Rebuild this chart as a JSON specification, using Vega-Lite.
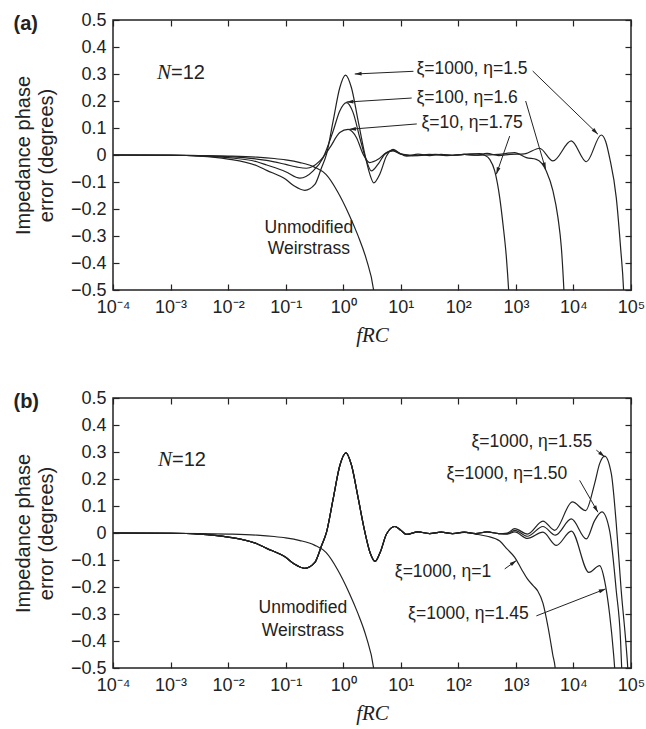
{
  "$schema": "https://vega.github.io/schema/vega-lite/v6.json",
  "padding": {"left": 12, "top": 10, "right": 4, "bottom": 2},
  "spacing": 42,
  "config": {
    "view": {"stroke": "#222", "strokeWidth": 1.5},
    "font": "Liberation Sans",
    "axis": {"labelFont": "Liberation Sans", "labelFontSize": 18, "labelColor": "#222", "tickColor": "#222", "tickWidth": 1.2, "domain": false, "grid": false, "tickSize": -6, "labelFlush": false, "labelOverlap": false, "labelBound": false, "titleColor": "#222", "titleFontWeight": "normal"},
    "text": {"font": "Liberation Sans", "fontSize": 17.5, "color": "#222"}
  },
  "datasets": {
    "curvesA": [
      {"s":"a1","f":0.0001,"err":0},{"s":"a1","f":0.001,"err":-0.001},{"s":"a1","f":0.003162,"err":-0.004},{"s":"a1","f":0.01,"err":-0.015},{"s":"a1","f":0.03162,"err":-0.04},{"s":"a1","f":0.04677,"err":-0.057},{"s":"a1","f":0.1,"err":-0.09},{"s":"a1","f":0.1413,"err":-0.115},{"s":"a1","f":0.2153,"err":-0.131},{"s":"a1","f":0.3214,"err":-0.109},{"s":"a1","f":0.4198,"err":-0.047},{"s":"a1","f":0.5129,"err":0.003},{"s":"a1","f":0.6683,"err":0.126},{"s":"a1","f":0.871,"err":0.249},{"s":"a1","f":1.096,"err":0.296},{"s":"a1","f":1.39,"err":0.249},{"s":"a1","f":1.816,"err":0.126},{"s":"a1","f":2.371,"err":0.003},{"s":"a1","f":2.897,"err":-0.071},{"s":"a1","f":3.396,"err":-0.103},{"s":"a1","f":4.315,"err":-0.071},{"s":"a1","f":5.649,"err":-0.004},{"s":"a1","f":7.345,"err":0.021},{"s":"a1","f":9.333,"err":0.008},{"s":"a1","f":12.59,"err":-0.004},{"s":"a1","f":19.95,"err":0.003},{"s":"a1","f":31.62,"err":-0.002},{"s":"a1","f":50.12,"err":0.002},{"s":"a1","f":79.43,"err":-0.001},{"s":"a1","f":125.9,"err":0.002},{"s":"a1","f":199.5,"err":-0.001},{"s":"a1","f":316.2,"err":0.006},{"s":"a1","f":501.2,"err":-0.002},{"s":"a1","f":794.3,"err":0.002},{"s":"a1","f":1413,"err":0.004},{"s":"a1","f":2588,"err":0.025},{"s":"a1","f":4406,"err":-0.022},{"s":"a1","f":9162,"err":0.052},{"s":"a1","f":16750,"err":-0.025},{"s":"a1","f":30480,"err":0.074},{"s":"a1","f":36310,"err":0.05},{"s":"a1","f":42460,"err":-0.01},{"s":"a1","f":55460,"err":-0.158},{"s":"a1","f":65920,"err":-0.343},{"s":"a1","f":74470,"err":-0.504},{"s":"a1","f":76000,"err":-0.55},
      {"s":"a2","f":0.0001,"err":0},{"s":"a2","f":0.001,"err":-0.001},{"s":"a2","f":0.003162,"err":-0.003},{"s":"a2","f":0.01,"err":-0.01},{"s":"a2","f":0.03162,"err":-0.025},{"s":"a2","f":0.04677,"err":-0.037},{"s":"a2","f":0.1,"err":-0.062},{"s":"a2","f":0.1766,"err":-0.086},{"s":"a2","f":0.3006,"err":-0.059},{"s":"a2","f":0.4477,"err":-0.01},{"s":"a2","f":0.6683,"err":0.089},{"s":"a2","f":0.871,"err":0.163},{"s":"a2","f":1.14,"err":0.194},{"s":"a2","f":1.486,"err":0.157},{"s":"a2","f":1.941,"err":0.064},{"s":"a2","f":2.541,"err":-0.022},{"s":"a2","f":3.09,"err":-0.059},{"s":"a2","f":4.036,"err":-0.034},{"s":"a2","f":5.272,"err":0.003},{"s":"a2","f":7.345,"err":0.017},{"s":"a2","f":10,"err":0.004},{"s":"a2","f":15.85,"err":-0.003},{"s":"a2","f":31.62,"err":0.002},{"s":"a2","f":63.1,"err":-0.002},{"s":"a2","f":125.9,"err":0.002},{"s":"a2","f":251.2,"err":-0.001},{"s":"a2","f":501.2,"err":0.002},{"s":"a2","f":952.8,"err":0.009},{"s":"a2","f":1517,"err":-0.01},{"s":"a2","f":2259,"err":-0.016},{"s":"a2","f":3373,"err":-0.059},{"s":"a2","f":4406,"err":-0.133},{"s":"a2","f":5383,"err":-0.232},{"s":"a2","f":6166,"err":-0.343},{"s":"a2","f":6839,"err":-0.504},{"s":"a2","f":7000,"err":-0.55},
      {"s":"a3","f":0.0001,"err":0},{"s":"a3","f":0.001,"err":-0.0005},{"s":"a3","f":0.003162,"err":-0.002},{"s":"a3","f":0.01,"err":-0.006},{"s":"a3","f":0.03162,"err":-0.015},{"s":"a3","f":0.04677,"err":-0.02},{"s":"a3","f":0.1,"err":-0.035},{"s":"a3","f":0.1585,"err":-0.045},{"s":"a3","f":0.2291,"err":-0.049},{"s":"a3","f":0.3926,"err":-0.022},{"s":"a3","f":0.5848,"err":0.027},{"s":"a3","f":0.871,"err":0.083},{"s":"a3","f":1.216,"err":0.095},{"s":"a3","f":1.702,"err":0.064},{"s":"a3","f":2.218,"err":0.003},{"s":"a3","f":2.884,"err":-0.028},{"s":"a3","f":4.036,"err":-0.016},{"s":"a3","f":5.649,"err":0.009},{"s":"a3","f":7.345,"err":0.015},{"s":"a3","f":10,"err":0.003},{"s":"a3","f":19.95,"err":-0.002},{"s":"a3","f":39.81,"err":0.002},{"s":"a3","f":79.43,"err":-0.001},{"s":"a3","f":158.5,"err":0.004},{"s":"a3","f":235.5,"err":0.005},{"s":"a3","f":281.8,"err":0},{"s":"a3","f":350.8,"err":-0.016},{"s":"a3","f":428.5,"err":-0.059},{"s":"a3","f":523.6,"err":-0.158},{"s":"a3","f":597,"err":-0.257},{"s":"a3","f":683.9,"err":-0.38},{"s":"a3","f":749.9,"err":-0.504},{"s":"a3","f":770,"err":-0.55},
      {"s":"u","f":0.0001,"err":0},{"s":"u","f":0.001,"err":-0.001},{"s":"u","f":0.003162,"err":-0.002},{"s":"u","f":0.01,"err":-0.004},{"s":"u","f":0.03162,"err":-0.008},{"s":"u","f":0.0631,"err":-0.013},{"s":"u","f":0.1,"err":-0.018},{"s":"u","f":0.1778,"err":-0.028},{"s":"u","f":0.3162,"err":-0.045},{"s":"u","f":0.5012,"err":-0.072},{"s":"u","f":0.7943,"err":-0.135},{"s":"u","f":1.259,"err":-0.22},{"s":"u","f":1.778,"err":-0.295},{"s":"u","f":2.512,"err":-0.385},{"s":"u","f":3.396,"err":-0.505},{"s":"u","f":3.6,"err":-0.55}
    ],
    "curvesB": [
      {"s":"u","f":0.0001,"err":0},{"s":"u","f":0.001,"err":-0.001},{"s":"u","f":0.003162,"err":-0.002},{"s":"u","f":0.01,"err":-0.004},{"s":"u","f":0.03162,"err":-0.008},{"s":"u","f":0.0631,"err":-0.013},{"s":"u","f":0.1,"err":-0.018},{"s":"u","f":0.1778,"err":-0.028},{"s":"u","f":0.3162,"err":-0.045},{"s":"u","f":0.5012,"err":-0.072},{"s":"u","f":0.7943,"err":-0.135},{"s":"u","f":1.259,"err":-0.22},{"s":"u","f":1.778,"err":-0.295},{"s":"u","f":2.512,"err":-0.385},{"s":"u","f":3.396,"err":-0.505},{"s":"u","f":3.6,"err":-0.55},
      {"s":"e1","f":0.0001,"err":0},{"s":"e1","f":0.001,"err":-0.001},{"s":"e1","f":0.003162,"err":-0.004},{"s":"e1","f":0.01,"err":-0.015},{"s":"e1","f":0.03162,"err":-0.04},{"s":"e1","f":0.04677,"err":-0.057},{"s":"e1","f":0.1,"err":-0.09},{"s":"e1","f":0.1413,"err":-0.115},{"s":"e1","f":0.2153,"err":-0.131},{"s":"e1","f":0.3214,"err":-0.109},{"s":"e1","f":0.4198,"err":-0.047},{"s":"e1","f":0.5129,"err":0.003},{"s":"e1","f":0.6683,"err":0.126},{"s":"e1","f":0.871,"err":0.249},{"s":"e1","f":1.118,"err":0.297},{"s":"e1","f":1.39,"err":0.252},{"s":"e1","f":1.816,"err":0.13},{"s":"e1","f":2.371,"err":0.005},{"s":"e1","f":2.951,"err":-0.075},{"s":"e1","f":3.589,"err":-0.105},{"s":"e1","f":4.416,"err":-0.07},{"s":"e1","f":5.649,"err":-0.004},{"s":"e1","f":7.87,"err":0.024},{"s":"e1","f":10,"err":0.01},{"s":"e1","f":12.59,"err":-0.005},{"s":"e1","f":19.95,"err":0.004},{"s":"e1","f":31.62,"err":-0.002},{"s":"e1","f":50.12,"err":0.003},{"s":"e1","f":79.43,"err":-0.002},{"s":"e1","f":125.9,"err":0.002},{"s":"e1","f":199.5,"err":-0.004},{"s":"e1","f":316.2,"err":-0.012},{"s":"e1","f":524.8,"err":-0.03},{"s":"e1","f":707.9,"err":-0.06},{"s":"e1","f":955,"err":-0.09},{"s":"e1","f":1259,"err":-0.135},{"s":"e1","f":1585,"err":-0.17},{"s":"e1","f":1995,"err":-0.195},{"s":"e1","f":2399,"err":-0.215},{"s":"e1","f":2951,"err":-0.26},{"s":"e1","f":3631,"err":-0.35},{"s":"e1","f":4365,"err":-0.45},{"s":"e1","f":4898,"err":-0.515},{"s":"e1","f":5000,"err":-0.55},
      {"s":"b1","f":0.0001,"err":0},{"s":"b1","f":0.001,"err":-0.001},{"s":"b1","f":0.003162,"err":-0.004},{"s":"b1","f":0.01,"err":-0.015},{"s":"b1","f":0.03162,"err":-0.04},{"s":"b1","f":0.04677,"err":-0.057},{"s":"b1","f":0.1,"err":-0.09},{"s":"b1","f":0.1413,"err":-0.115},{"s":"b1","f":0.2153,"err":-0.131},{"s":"b1","f":0.3214,"err":-0.109},{"s":"b1","f":0.4198,"err":-0.047},{"s":"b1","f":0.5129,"err":0.003},{"s":"b1","f":0.6683,"err":0.126},{"s":"b1","f":0.871,"err":0.249},{"s":"b1","f":1.118,"err":0.297},{"s":"b1","f":1.39,"err":0.252},{"s":"b1","f":1.816,"err":0.13},{"s":"b1","f":2.371,"err":0.005},{"s":"b1","f":2.951,"err":-0.075},{"s":"b1","f":3.589,"err":-0.105},{"s":"b1","f":4.416,"err":-0.07},{"s":"b1","f":5.649,"err":-0.004},{"s":"b1","f":7.87,"err":0.024},{"s":"b1","f":10,"err":0.01},{"s":"b1","f":12.59,"err":-0.005},{"s":"b1","f":19.95,"err":0.004},{"s":"b1","f":31.62,"err":-0.002},{"s":"b1","f":50.12,"err":0.003},{"s":"b1","f":79.43,"err":-0.002},{"s":"b1","f":125.9,"err":0.003},{"s":"b1","f":199.5,"err":-0.002},{"s":"b1","f":316.2,"err":0.004},{"s":"b1","f":501.2,"err":-0.002},{"s":"b1","f":707.9,"err":0},{"s":"b1","f":955,"err":0.016},{"s":"b1","f":1585,"err":-0.004},{"s":"b1","f":2951,"err":0.044},{"s":"b1","f":4721,"err":0.01},{"s":"b1","f":9572,"err":0.115},{"s":"b1","f":16290,"err":0.083},{"s":"b1","f":23330,"err":0.183},{"s":"b1","f":28510,"err":0.257},{"s":"b1","f":34830,"err":0.285},{"s":"b1","f":45500,"err":0.22},{"s":"b1","f":55460,"err":0.034},{"s":"b1","f":67610,"err":-0.214},{"s":"b1","f":82790,"err":-0.425},{"s":"b1","f":88310,"err":-0.51},{"s":"b1","f":90000,"err":-0.55},
      {"s":"b2","f":0.0001,"err":0},{"s":"b2","f":0.001,"err":-0.001},{"s":"b2","f":0.003162,"err":-0.004},{"s":"b2","f":0.01,"err":-0.015},{"s":"b2","f":0.03162,"err":-0.04},{"s":"b2","f":0.04677,"err":-0.057},{"s":"b2","f":0.1,"err":-0.09},{"s":"b2","f":0.1413,"err":-0.115},{"s":"b2","f":0.2153,"err":-0.131},{"s":"b2","f":0.3214,"err":-0.109},{"s":"b2","f":0.4198,"err":-0.047},{"s":"b2","f":0.5129,"err":0.003},{"s":"b2","f":0.6683,"err":0.126},{"s":"b2","f":0.871,"err":0.249},{"s":"b2","f":1.118,"err":0.297},{"s":"b2","f":1.39,"err":0.252},{"s":"b2","f":1.816,"err":0.13},{"s":"b2","f":2.371,"err":0.005},{"s":"b2","f":2.951,"err":-0.075},{"s":"b2","f":3.589,"err":-0.105},{"s":"b2","f":4.416,"err":-0.07},{"s":"b2","f":5.649,"err":-0.004},{"s":"b2","f":7.87,"err":0.024},{"s":"b2","f":10,"err":0.01},{"s":"b2","f":12.59,"err":-0.005},{"s":"b2","f":19.95,"err":0.004},{"s":"b2","f":31.62,"err":-0.002},{"s":"b2","f":50.12,"err":0.003},{"s":"b2","f":79.43,"err":-0.002},{"s":"b2","f":125.9,"err":0.003},{"s":"b2","f":199.5,"err":-0.002},{"s":"b2","f":316.2,"err":0.004},{"s":"b2","f":501.2,"err":-0.002},{"s":"b2","f":707.9,"err":-0.002},{"s":"b2","f":955,"err":0.01},{"s":"b2","f":1585,"err":-0.012},{"s":"b2","f":2951,"err":0.024},{"s":"b2","f":4853,"err":-0.008},{"s":"b2","f":9204,"err":0.052},{"s":"b2","f":16750,"err":-0.022},{"s":"b2","f":23330,"err":0.046},{"s":"b2","f":31260,"err":0.078},{"s":"b2","f":42460,"err":0.009},{"s":"b2","f":55460,"err":-0.214},{"s":"b2","f":65920,"err":-0.4},{"s":"b2","f":69180,"err":-0.51},{"s":"b2","f":71000,"err":-0.55},
      {"s":"b3","f":0.0001,"err":0},{"s":"b3","f":0.001,"err":-0.001},{"s":"b3","f":0.003162,"err":-0.004},{"s":"b3","f":0.01,"err":-0.015},{"s":"b3","f":0.03162,"err":-0.04},{"s":"b3","f":0.04677,"err":-0.057},{"s":"b3","f":0.1,"err":-0.09},{"s":"b3","f":0.1413,"err":-0.115},{"s":"b3","f":0.2153,"err":-0.131},{"s":"b3","f":0.3214,"err":-0.109},{"s":"b3","f":0.4198,"err":-0.047},{"s":"b3","f":0.5129,"err":0.003},{"s":"b3","f":0.6683,"err":0.126},{"s":"b3","f":0.871,"err":0.249},{"s":"b3","f":1.118,"err":0.297},{"s":"b3","f":1.39,"err":0.252},{"s":"b3","f":1.816,"err":0.13},{"s":"b3","f":2.371,"err":0.005},{"s":"b3","f":2.951,"err":-0.075},{"s":"b3","f":3.589,"err":-0.105},{"s":"b3","f":4.416,"err":-0.07},{"s":"b3","f":5.649,"err":-0.004},{"s":"b3","f":7.87,"err":0.024},{"s":"b3","f":10,"err":0.01},{"s":"b3","f":12.59,"err":-0.005},{"s":"b3","f":19.95,"err":0.004},{"s":"b3","f":31.62,"err":-0.002},{"s":"b3","f":50.12,"err":0.003},{"s":"b3","f":79.43,"err":-0.002},{"s":"b3","f":125.9,"err":0.003},{"s":"b3","f":199.5,"err":-0.002},{"s":"b3","f":316.2,"err":0.004},{"s":"b3","f":501.2,"err":-0.002},{"s":"b3","f":707.9,"err":-0.004},{"s":"b3","f":955,"err":0.004},{"s":"b3","f":1585,"err":-0.02},{"s":"b3","f":2951,"err":0.003},{"s":"b3","f":5047,"err":-0.046},{"s":"b3","f":9204,"err":0.007},{"s":"b3","f":18580,"err":-0.146},{"s":"b3","f":28510,"err":-0.121},{"s":"b3","f":34830,"err":-0.177},{"s":"b3","f":42460,"err":-0.3},{"s":"b3","f":49890,"err":-0.45},{"s":"b3","f":52480,"err":-0.51},{"s":"b3","f":54000,"err":-0.55}
    ],
    "labelsA": [
      {"t":"ξ=1000, η=1.5","f":18.75,"err":0.319},
      {"t":"ξ=100, η=1.6","f":18.75,"err":0.212},
      {"t":"ξ=10, η=1.75","f":22.86,"err":0.12}
    ],
    "unmodA": [
      {"t":"Unmodified","f":0.2529,"err":-0.269},
      {"t":"Weirstrass","f":0.2529,"err":-0.349}
    ],
    "arrowsA": [
      {"f0":16.6,"err0":0.31,"f":1.585,"err":0.3},
      {"f0":1959,"err0":0.311,"f":26610,"err":0.077},
      {"f0":15.49,"err0":0.211,"f":1.14,"err":0.196},
      {"f0":1479,"err0":0.2,"f":3289,"err":-0.053},
      {"f0":18.97,"err0":0.115,"f":1.265,"err":0.095},
      {"f0":779.8,"err0":0.07,"f":458.1,"err":-0.071}
    ],
    "nA": [{"f":0.000581,"err":0.302}],
    "labelsB": [
      {"t":"ξ=1000, η=1.55","f":168.7,"err":0.338},
      {"t":"ξ=1000, η=1.50","f":62.09,"err":0.22},
      {"t":"ξ=1000, η=1","f":7.87,"err":-0.146},
      {"t":"ξ=1000, η=1.45","f":13.4,"err":-0.3}
    ],
    "unmodB": [
      {"t":"Unmodified","f":0.1991,"err":-0.276},
      {"t":"Weirstrass","f":0.1991,"err":-0.362}
    ],
    "arrowsB": [
      {"f0":25000,"err0":0.307,"f":34830,"err":0.282},
      {"f0":12820,"err0":0.195,"f":26610,"err":0.077},
      {"f0":639.7,"err0":-0.133,"f":1021,"err":-0.102},
      {"f0":2270,"err0":-0.307,"f":36220,"err":-0.207}
    ],
    "nB": [{"f":0.000604,"err":0.27}]
  },
  "vconcat": [
    {
      "title": {"text": "(a)", "anchor": "start", "frame": "bounds", "font": "Liberation Sans", "fontSize": 20, "fontWeight": "bold", "color": "#222", "dy": 27},
      "width": 518, "height": 270,
      "resolve": {"axis": {"x": "independent", "y": "independent"}},
      "encoding": {
        "x": {"field": "f", "type": "quantitative", "scale": {"type": "log", "domain": [0.0001, 100000], "nice": false}, "axis": null},
        "y": {"field": "err", "type": "quantitative", "scale": {"domain": [-0.5, 0.5], "nice": false, "zero": false}, "axis": null}
      },
      "layer": [
        {
          "data": {"name": "curvesA"},
          "mark": {"type": "line", "interpolate": "monotone", "clip": true, "color": "#222", "strokeWidth": 1.2},
          "encoding": {
            "x": {"field": "f", "type": "quantitative", "scale": {"type": "log", "domain": [0.0001, 100000], "nice": false},
              "axis": {"orient": "bottom", "values": [0.0001, 0.001, 0.01, 0.1, 1, 10, 100, 1000, 10000, 100000], "labelExpr": "'10' + ['⁻⁴','⁻³','⁻²','⁻¹','⁰','¹','²','³','⁴','⁵'][round(log(datum.value)/LN10)+4]", "labelPadding": 14, "title": "fRC", "titleFont": "Liberation Serif", "titleFontStyle": "italic", "titleFontSize": 21, "titlePadding": 8}},
            "y": {"field": "err", "type": "quantitative", "scale": {"domain": [-0.5, 0.5], "nice": false, "zero": false},
              "axis": {"orient": "left", "values": [-0.5, -0.4, -0.3, -0.2, -0.1, 0, 0.1, 0.2, 0.3, 0.4, 0.5], "format": ".1~f", "labelPadding": 13, "title": ["Impedance phase", "error (degrees)"], "titleFontSize": 20, "titleLineHeight": 23, "titlePadding": 14}},
            "detail": {"field": "s"}
          }
        },
        {
          "data": {"name": "arrowsA"},
          "mark": {"type": "rule", "color": "#222", "strokeWidth": 1},
          "encoding": {
            "x": {"field": "f", "type": "quantitative", "scale": {"type": "log", "domain": [0.0001, 100000], "nice": false},
              "axis": {"orient": "top", "values": [0.0001, 0.001, 0.01, 0.1, 1, 10, 100, 1000, 10000, 100000], "labels": false, "title": null}},
            "y": {"field": "err", "type": "quantitative", "scale": {"domain": [-0.5, 0.5], "nice": false, "zero": false},
              "axis": {"orient": "right", "values": [-0.5, -0.4, -0.3, -0.2, -0.1, 0, 0.1, 0.2, 0.3, 0.4, 0.5], "labels": false, "title": null}},
            "x2": {"field": "f0"},
            "y2": {"field": "err0"}
          }
        },
        {
          "data": {"name": "arrowsA"},
          "transform": [{"calculate": "atan2((log(datum.f)-log(datum.f0))/LN10*518/9, (datum.err-datum.err0)*270)*180/PI", "as": "ang"}],
          "mark": {"type": "point", "shape": "M0,0L-0.7,2.5L0.7,2.5Z", "filled": true, "size": 30, "color": "#222", "opacity": 1},
          "encoding": {"angle": {"field": "ang", "type": "quantitative", "scale": null}}
        },
        {
          "data": {"name": "labelsA"},
          "mark": {"type": "text", "align": "left", "baseline": "middle"},
          "encoding": {"text": {"field": "t"}}
        },
        {
          "data": {"name": "unmodA"},
          "mark": {"type": "text", "align": "center", "baseline": "middle"},
          "encoding": {"text": {"field": "t"}}
        },
        {
          "data": {"name": "nA"},
          "mark": {"type": "text", "align": "left", "baseline": "middle", "font": "Liberation Serif", "fontStyle": "italic", "fontSize": 21},
          "encoding": {"text": {"value": "N"}}
        },
        {
          "data": {"name": "nA"},
          "mark": {"type": "text", "align": "left", "baseline": "middle", "fontSize": 20, "dx": 14},
          "encoding": {"text": {"value": "=12"}}
        }
      ]
    },
    {
      "title": {"text": "(b)", "anchor": "start", "frame": "bounds", "font": "Liberation Sans", "fontSize": 20, "fontWeight": "bold", "color": "#222", "dy": 27},
      "width": 518, "height": 270,
      "resolve": {"axis": {"x": "independent", "y": "independent"}},
      "encoding": {
        "x": {"field": "f", "type": "quantitative", "scale": {"type": "log", "domain": [0.0001, 100000], "nice": false}, "axis": null},
        "y": {"field": "err", "type": "quantitative", "scale": {"domain": [-0.5, 0.5], "nice": false, "zero": false}, "axis": null}
      },
      "layer": [
        {
          "data": {"name": "curvesB"},
          "mark": {"type": "line", "interpolate": "monotone", "clip": true, "color": "#222", "strokeWidth": 1.2},
          "encoding": {
            "x": {"field": "f", "type": "quantitative", "scale": {"type": "log", "domain": [0.0001, 100000], "nice": false},
              "axis": {"orient": "bottom", "values": [0.0001, 0.001, 0.01, 0.1, 1, 10, 100, 1000, 10000, 100000], "labelExpr": "'10' + ['⁻⁴','⁻³','⁻²','⁻¹','⁰','¹','²','³','⁴','⁵'][round(log(datum.value)/LN10)+4]", "labelPadding": 14, "title": "fRC", "titleFont": "Liberation Serif", "titleFontStyle": "italic", "titleFontSize": 21, "titlePadding": 8}},
            "y": {"field": "err", "type": "quantitative", "scale": {"domain": [-0.5, 0.5], "nice": false, "zero": false},
              "axis": {"orient": "left", "values": [-0.5, -0.4, -0.3, -0.2, -0.1, 0, 0.1, 0.2, 0.3, 0.4, 0.5], "format": ".1~f", "labelPadding": 13, "title": ["Impedance phase", "error (degrees)"], "titleFontSize": 20, "titleLineHeight": 23, "titlePadding": 14}},
            "detail": {"field": "s"}
          }
        },
        {
          "data": {"name": "arrowsB"},
          "mark": {"type": "rule", "color": "#222", "strokeWidth": 1},
          "encoding": {
            "x": {"field": "f", "type": "quantitative", "scale": {"type": "log", "domain": [0.0001, 100000], "nice": false},
              "axis": {"orient": "top", "values": [0.0001, 0.001, 0.01, 0.1, 1, 10, 100, 1000, 10000, 100000], "labels": false, "title": null}},
            "y": {"field": "err", "type": "quantitative", "scale": {"domain": [-0.5, 0.5], "nice": false, "zero": false},
              "axis": {"orient": "right", "values": [-0.5, -0.4, -0.3, -0.2, -0.1, 0, 0.1, 0.2, 0.3, 0.4, 0.5], "labels": false, "title": null}},
            "x2": {"field": "f0"},
            "y2": {"field": "err0"}
          }
        },
        {
          "data": {"name": "arrowsB"},
          "transform": [{"calculate": "atan2((log(datum.f)-log(datum.f0))/LN10*518/9, (datum.err-datum.err0)*270)*180/PI", "as": "ang"}],
          "mark": {"type": "point", "shape": "M0,0L-0.7,2.5L0.7,2.5Z", "filled": true, "size": 30, "color": "#222", "opacity": 1},
          "encoding": {"angle": {"field": "ang", "type": "quantitative", "scale": null}}
        },
        {
          "data": {"name": "labelsB"},
          "mark": {"type": "text", "align": "left", "baseline": "middle"},
          "encoding": {"text": {"field": "t"}}
        },
        {
          "data": {"name": "unmodB"},
          "mark": {"type": "text", "align": "center", "baseline": "middle"},
          "encoding": {"text": {"field": "t"}}
        },
        {
          "data": {"name": "nB"},
          "mark": {"type": "text", "align": "left", "baseline": "middle", "font": "Liberation Serif", "fontStyle": "italic", "fontSize": 21},
          "encoding": {"text": {"value": "N"}}
        },
        {
          "data": {"name": "nB"},
          "mark": {"type": "text", "align": "left", "baseline": "middle", "fontSize": 20, "dx": 14},
          "encoding": {"text": {"value": "=12"}}
        }
      ]
    }
  ]
}
